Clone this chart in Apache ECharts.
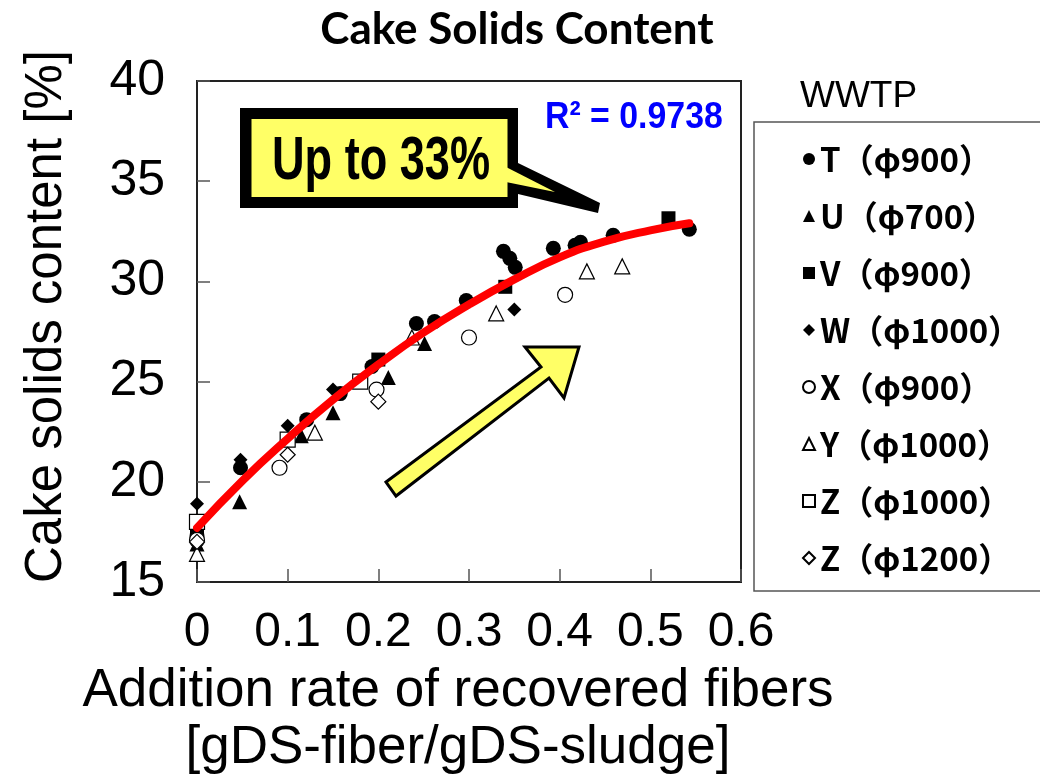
<!DOCTYPE html>
<html>
<head>
<meta charset="utf-8">
<script src="https://cdn.jsdelivr.net/npm/echarts@6/dist/echarts.min.js"></script>
<style>
html,body{margin:0;padding:0;background:#fff;}
#chart{width:1040px;height:782px;}
</style>
</head>
<body>
<div id="chart"></div>
<script>
// ---- data ----
const xTicks = [0, 0.1, 0.2, 0.3, 0.4, 0.5, 0.6];
const yTicks = [15, 20, 25, 30, 35, 40];

const seriesNames = ['T（φ900）', 'U（φ700）', 'V（φ900）', 'W（φ1000）', 'X（φ900）', 'Y（φ1000）', 'Z（φ1000）', 'Z（φ1200）'];

const dataT = [[0,17.3],[0.048,20.7],[0.121,23.1],[0.158,24.4],[0.193,25.75],[0.242,27.9],[0.262,28.0],[0.297,29.05],[0.338,31.5],[0.345,31.15],[0.351,30.7],[0.393,31.65],[0.417,31.8],[0.423,31.95],[0.459,32.3],[0.543,32.6]];
const dataU = [[0,16.9],[0.047,19.0],[0.115,22.3],[0.15,23.45],[0.211,25.2],[0.251,26.9]];
const dataV = [[0,17.6],[0.2,26.1],[0.34,29.73],[0.52,33.15]];
const dataW = [[0,18.9],[0.048,21.1],[0.1,22.8],[0.15,24.6],[0.35,28.6]];
const dataX = [[0,17.1],[0.091,20.7],[0.198,24.6],[0.3,27.2],[0.406,29.33]];
const dataY = [[0,16.4],[0.13,22.45],[0.237,27.2],[0.33,28.4],[0.43,30.5],[0.469,30.75]];
const dataZ1 = [[0,18.0],[0.1,22.1],[0.18,25.0]];
const dataZ2 = [[0,17.0],[0.1,21.35],[0.2,24.0]];

// trend line (R² = 0.9738)
const trendX = [0, 0.05, 0.1, 0.15, 0.2, 0.25, 0.3, 0.35, 0.4, 0.45, 0.5, 0.543];
const trendY = [17.7, 20.05, 22.15, 24.1, 25.85, 27.45, 28.85, 30.1, 31.2, 32.0, 32.55, 32.9];

const rSquaredText = 'R² = 0.9738';
const calloutText = 'Up to 33%';
// ------------------------------------------------

const ARIAL = "'Liberation Sans',Arial,sans-serif";

const symbols = ['circle','triangle','rect','diamond','circle','triangle','rect','diamond'];
const filled = [true,true,true,true,false,false,false,false];
const sizes = [15,15,14,14,15,15,15,15];
const datas = [dataT,dataU,dataV,dataW,dataX,dataY,dataZ1,dataZ2];

const scatterSeries = seriesNames.map((n,i)=>({
  name: n,
  type: 'scatter',
  symbol: symbols[i],
  symbolSize: sizes[i],
  data: datas[i],
  itemStyle: filled[i] ? {color:'#000', borderWidth:0, opacity:1} : {color:'#fff', borderColor:'#000', borderWidth:1.2, opacity:1},
  z: 2 + i
}));

const chart = echarts.init(document.getElementById('chart'), null, {renderer:'canvas'});

const option = {
  backgroundColor: '#fff',
  animation: false,
  title: {
    text: 'Cake Solids Content',
    left: 512, top: 3, textAlign: 'center',
    textStyle: {fontFamily: "Lato,'Open Sans',sans-serif", fontWeight: 'bold', fontSize: 44, color: '#000'}
  },
  grid: {left: 197, top: 81, width: 544, height: 507, show: true, borderColor: '#222', borderWidth: 2, backgroundColor: 'transparent'},
  xAxis: {
    type: 'value', min: xTicks[0], max: xTicks[xTicks.length-1], interval: 0.1,
    axisLine: {show: true, lineStyle: {color: '#222', width: 2}},
    axisTick: {show: true, inside: true, length: 13, lineStyle: {color: '#555', width: 1.5}},
    splitLine: {show: false},
    axisLabel: {margin: 27, fontFamily: ARIAL, fontSize: 48, color: '#000', formatter: v => String(+v.toFixed(1))},
    name: 'Addition rate of recovered fibers\n[gDS-fiber/gDS-sludge]',
    nameLocation: 'middle', nameGap: 81,
    nameTextStyle: {fontFamily: ARIAL, fontSize: 53, lineHeight: 57, color: '#000', padding: [0,22,0,0]}
  },
  yAxis: {
    type: 'value', min: yTicks[0], max: yTicks[yTicks.length-1], interval: 5,
    axisLine: {show: true, lineStyle: {color: '#222', width: 2}},
    axisTick: {show: true, inside: true, length: 13, lineStyle: {color: '#555', width: 1.5}},
    splitLine: {show: false},
    axisLabel: {margin: 32, fontFamily: ARIAL, fontSize: 50, color: '#000'},
    name: 'Cake solids content [%]',
    nameLocation: 'middle', nameRotate: 90, nameGap: 122,
    nameTextStyle: {fontFamily: ARIAL, fontSize: 51, lineHeight: 56, color: '#000', padding: [0,0,0,30]}
  },
  legend: {
    orient: 'vertical', left: 754, top: 122,
    data: seriesNames,
    itemWidth: 12, itemHeight: 12, itemGap: 17,
    padding: [17, 200, 13, 48],
    borderColor: '#555', borderWidth: 1.5,
    textStyle: {fontFamily: "'Noto Sans CJK JP',sans-serif", fontSize: 33, lineHeight: 40, color: '#000', fontWeight: 'bold'}
  },
  series: scatterSeries.concat([{
    name: 'trend', type: 'line', smooth: true, symbol: 'none',
    data: trendX.map((x,i)=>[x, trendY[i]]),
    lineStyle: {color: '#ff0000', width: 8, cap: 'round'},
    z: 20, silent: true
  }]),
  graphic: [
    {type:'text', left: 800, top: 78, style:{text:'WWTP', fontFamily: ARIAL, fontSize: 37, fill:'#000'}},
    {type:'text', x: 545, y: 118, scaleX: 0.94, scaleY: 1.05, style:{text: rSquaredText, fontFamily: ARIAL, fontWeight:'bold', fontSize: 36, fill:'#0000ff', textVerticalAlign:'middle'}},
    // callout
    {type:'polygon', shape:{points:[[240,108],[518,108],[518,163],[600,203],[598,213],[518,194],[518,208],[240,208]]}, style:{fill:'#000'}, z: 50},
    {type:'rect', shape:{x:251.5, y:119, width:256, height:78}, style:{fill:'#ffff66'}, z: 51},
    {type:'polygon', shape:{points:[[506,167],[555,192],[506,182]]}, style:{fill:'#ffff66'}, z: 51},
    {type:'text', x: 381, y: 162, scaleX: 0.82, scaleY: 1.1, style:{text: calloutText, fontFamily: ARIAL, fontWeight:'bold', fontSize: 55, fill:'#000', textAlign:'center', textVerticalAlign:'middle'}, z: 52},
    // big arrow
    {type:'polygon', shape:{points:[[386,482],[541,367],[525,347],[579,347],[564,398],[549,378],[396,496]]}, style:{fill:'#ffff66', stroke:'#000', lineWidth:3, lineJoin:'miter'}, z: 50}
  ]
};
chart.setOption(option);
</script>
</body>
</html>
